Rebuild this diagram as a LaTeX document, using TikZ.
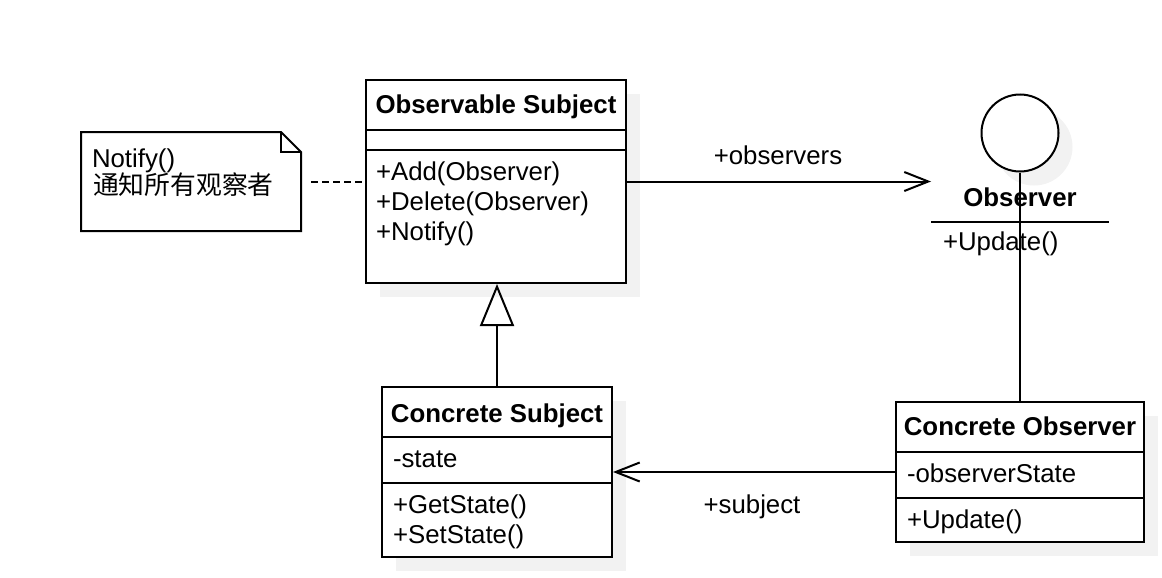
\documentclass[tikz,border=0pt]{standalone}
\usepackage{fontspec}
\setmainfont{Liberation Sans}
\newfontfamily\cjkfont{Noto Sans CJK SC}
\usetikzlibrary{arrows.meta,shadows}
\definecolor{shade}{HTML}{F2F2F2}

\tikzset{
  umlbox/.style={draw, fill=white, inner sep=0pt,
    drop shadow={shadow xshift=7pt, shadow yshift=-7pt, fill=shade, opacity=1}},
  txt/.style={inner sep=0pt, font=\fontsize{12.9}{15}\selectfont},
  title/.style={inner sep=0pt, font=\fontsize{12.9}{15}\selectfont\bfseries},
  assoc/.style={-{Straight Barb[length=12pt, width=9.5pt]}},
  inherit/.style={-{Triangle[open, length=21pt, width=17pt]}},
}

\begin{document}
\begin{tikzpicture}[x=0.5pt, y=-0.5pt, line width=1pt]
  \useasboundingbox (0,0) rectangle (1162,578);
  % Observable Subject
  \node[umlbox, minimum width=130pt, minimum height=101.5pt] (subj) at (496,181.5) {};
  \draw (subj.west |- 0,130) -- (subj.east |- 0,130);
  \draw (subj.west |- 0,150) -- (subj.east |- 0,150);
  \node[title, anchor=base] (subjname) at (496,113) {Observable Subject};
  \foreach \t [count=\i] in {+Add(Observer), +Delete(Observer), +Notify()}{
    \node[txt, anchor=base west] (subjop\i) at (375,150+30*\i) {\t};
  }
  % note
  \node[inner sep=0pt, minimum width=109pt, minimum height=48.5pt] (note) at (191,181.5) {};
  \draw (note.north west) -- ([xshift=-10pt]note.north east) -- ([yshift=-10pt]note.north east)
    -- (note.south east) -- (note.south west) -- cycle;
  \draw ([xshift=-10pt]note.north east) |- ([yshift=-10pt]note.north east);
  \node[txt, anchor=base west] (notetxt1) at (91,167) {Notify()};
  \node[txt, anchor=base west] (notetxt2) at (92,194) {\cjkfont 通知所有观察者};
  \draw[dash pattern=on 3.5pt off 2pt] ([xshift=5pt]note.east) -- (subj.west);
  % Observer interface
  \node[inner sep=0pt, minimum width=88pt, minimum height=82.5pt] (iface) at (1020,177.5) {};
  \node[circle, draw, fill=white, minimum size=38.5pt, inner sep=0pt,
    drop shadow={shadow xshift=7pt, shadow yshift=-7pt, fill=shade, opacity=1}] (lolly) at (1020,133) {};
  \node[title, anchor=base] (ifacename) at (1020,206) {Observer};
  \draw (iface.west |- 0,222) -- (iface.east |- 0,222);
  \node[txt, anchor=base west] (ifaceop) at (942,250) {+Update()};
  % Concrete Subject
  \node[umlbox, minimum width=115pt, minimum height=85pt] (csubj) at (497,472) {};
  \draw (csubj.west |- 0,437) -- (csubj.east |- 0,437);
  \draw (csubj.west |- 0,483) -- (csubj.east |- 0,483);
  \node[title, anchor=base] (csubjname) at (497,422) {Concrete Subject};
  \node[txt, anchor=base west] (csubjattr) at (392,467) {-state};
  \node[txt, anchor=base west] (csubjop1) at (392,513) {+GetState()};
  \node[txt, anchor=base west] (csubjop2) at (392,543) {+SetState()};
  % Concrete Observer
  \node[umlbox, minimum width=124pt, minimum height=70pt] (cobs) at (1020,472) {};
  \draw (cobs.west |- 0,452) -- (cobs.east |- 0,452);
  \draw (cobs.west |- 0,498) -- (cobs.east |- 0,498);
  \node[title, anchor=base] (cobsname) at (1020,435) {Concrete Observer};
  \node[txt, anchor=base west] (cobsattr) at (906,482) {-observerState};
  \node[txt, anchor=base west] (cobsop) at (906,528) {+Update()};
  % connectors
  \draw[inherit] (csubj.north) -- (csubj.north |- subj.south);
  \draw[assoc] (subj.east) -- (subj.east -| iface.west);
  \node[txt, anchor=base] (obslabel) at (778,164) {+observers};
  \draw[assoc] (cobs.west) -- (csubj.east);
  \node[txt, anchor=base] (subjlabel) at (752,513) {+subject};
  \draw (lolly.south) -- (lolly.south |- cobs.north);
\end{tikzpicture}
\end{document}
